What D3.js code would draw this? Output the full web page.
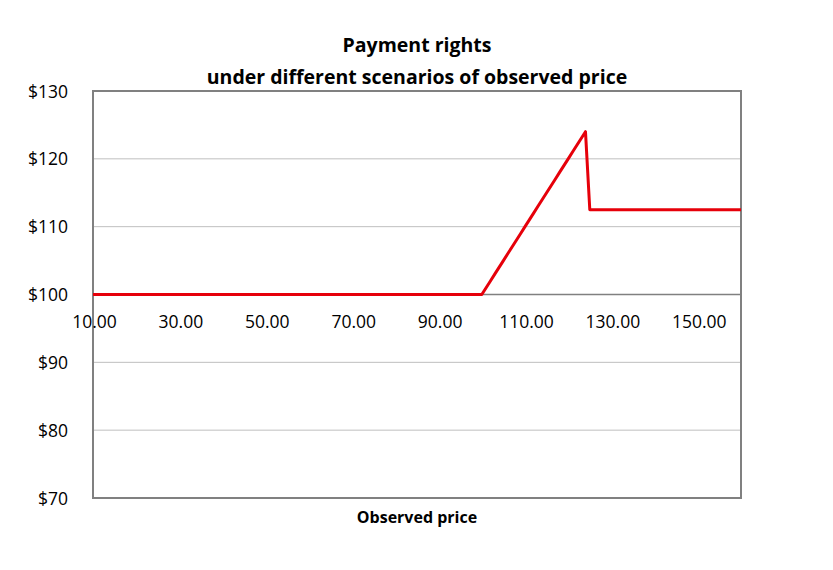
<!DOCTYPE html>
<html><head><meta charset="utf-8">
<script src="https://cdn.jsdelivr.net/npm/d3@7"></script>
<style>body{margin:0;background:#fff}svg text{font-family:"Open Sans",sans-serif;fill:#000}</style>
</head><body>
<svg id="c" width="833" height="570"></svg>
<script>
const titleLines = ["Payment rights", "under different scenarios of observed price"];
const xAxisTitle = "Observed price";
const xTicks = [10, 30, 50, 70, 90, 110, 130, 150];
const yTicks = [70, 80, 90, 100, 110, 120, 130];
const prices = [10, 100, 101, 102, 103, 104, 105, 106, 107, 108, 109, 110, 111, 112, 113, 114, 115, 116, 117, 118, 119, 120, 121, 122, 123, 124, 125, 160];
const payments = [100, 100, 101, 102, 103, 104, 105, 106, 107, 108, 109, 110, 111, 112, 113, 114, 115, 116, 117, 118, 119, 120, 121, 122, 123, 124, 112.5, 112.5];

const svg = d3.select("#c");
const L = 93, R = 741, T = 91, B = 498;
const x = d3.scaleLinear().domain([10, 160]).range([L, R]);
const y = d3.scaleLinear().domain([70, 130]).range([B, T]);

// gridlines
svg.append("g").selectAll("line").data(yTicks.filter(v => v !== 70 && v !== 130 && v !== 100)).join("line")
  .attr("x1", L).attr("x2", R).attr("y1", d => y(d)).attr("y2", d => y(d))
  .attr("stroke", "#bfbfbf").attr("stroke-width", 1);

// plot border
svg.append("rect").attr("x", L).attr("y", T).attr("width", R - L).attr("height", B - T)
  .attr("fill", "none").attr("stroke", "#808080").attr("stroke-width", 2);

// x axis line at 100
svg.append("line").attr("x1", L).attr("x2", R).attr("y1", y(100)).attr("y2", y(100))
  .attr("stroke", "#808080").attr("stroke-width", 1.5);

// y tick labels
const yAxis = d3.axisLeft(y).tickValues(yTicks).tickSize(0).tickPadding(25).tickFormat(d => "$" + d);
const gy = svg.append("g").attr("transform", `translate(${L},0)`).call(yAxis);
gy.select(".domain").remove();
gy.selectAll("text").attr("font-size", 17.5).attr("dy", "0.35em").attr("fill", "#000").style("font-family", "Open Sans");

// x tick labels
const xAxis = d3.axisBottom(x).tickValues(xTicks).tickSize(0).tickPadding(21).tickFormat(d3.format(".2f"));
const gx = svg.append("g").attr("transform", `translate(1,${y(100)})`).call(xAxis);
gx.select(".domain").remove();
gx.selectAll("text").attr("font-size", 17.5).attr("fill", "#000").style("font-family", "Open Sans");

// line
const pts = prices.map((p, i) => [p, payments[i]]);
svg.append("path").datum(pts)
  .attr("d", d3.line().x(d => x(d[0])).y(d => y(d[1])))
  .attr("fill", "none").attr("stroke", "#e6000a").attr("stroke-width", 3).attr("stroke-linejoin", "round");

// title
svg.append("g").selectAll("text").data(titleLines).join("text")
  .attr("x", 417).attr("y", (d, i) => 52 + i * 31.5).attr("text-anchor", "middle")
  .attr("font-size", 19.5).attr("font-weight", "bold").text(d => d);

svg.append("text").attr("x", 417).attr("y", 523).attr("text-anchor", "middle")
  .attr("font-size", 16).attr("font-weight", "bold").text(xAxisTitle);
</script>
</body></html>
